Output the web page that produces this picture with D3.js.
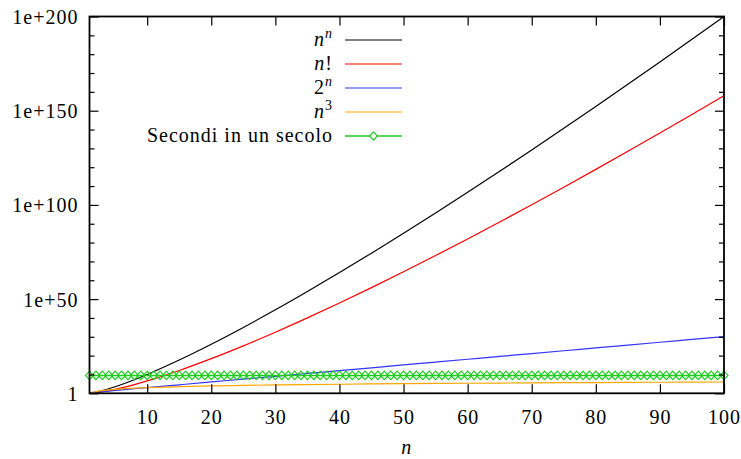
<!DOCTYPE html>
<html><head><meta charset="utf-8">
<script src="https://cdn.jsdelivr.net/npm/d3@7"></script>
<style>
html,body{margin:0;padding:0;background:#fff;}
text{font-family:"Liberation Serif","DejaVu Serif",serif;fill:#000;letter-spacing:1px;}
</style></head>
<body><svg id="chart" width="741" height="459"></svg>
<script>
// ---- data ----
const nSamples = [1,2,3,4,5,6,8,10,15,20,25,30,35,40,45,50,55,60,65,70,75,80,85,90,95,100];
const nPowN = [1,4,27,256,3125,46656,1.678e7,1e10,4.38e17,1.05e26,8.88e34,2.06e44,1.13e54,1.21e64,2.45e74,8.88e84,5.29e95,4.87e106,6.87e117,1.45e129,4.23e140,1.78e152,1.01e164,7.62e175,7.74e187,1e200];
const nFact = [1,2,6,24,120,720,40320,3628800,1.31e12,2.43e18,1.55e25,2.65e32,1.03e40,8.16e47,1.20e56,3.04e64,1.27e73,8.32e81,8.25e90,1.20e100,2.48e109,7.16e118,2.82e128,1.49e138,1.03e148,9.33e157];
const twoPowN = [2,4,8,16,32,64,256,1024,32768,1.05e6,3.36e7,1.07e9,3.44e10,1.10e12,3.52e13,1.13e15,3.60e16,1.15e18,3.69e19,1.18e21,3.78e22,1.21e24,3.87e25,1.24e27,3.96e28,1.27e30];
const nCube = [1,8,27,64,125,216,512,1000,3375,8000,15625,27000,42875,64000,91125,125000,166375,216000,274625,343000,421875,512000,614125,729000,857375,1e6];
const nSecolo = [1,2,3,4,5,6,7,8,9,10,11,12,13,14,15,16,17,18,19,20,21,22,23,24,25,26,27,28,29,30,31,32,33,34,35,36,37,38,39,40,41,42,43,44,45,46,47,48,49,50,51,52,53,54,55,56,57,58,59,60,61,62,63,64,65,66,67,68,69,70,71,72,73,74,75,76,77,78,79,80,81,82,83,84,85,86,87,88,89,90,91,92,93,94,95,96,97,98,99,100];
const secondiSecolo = [3.15e9,3.15e9,3.15e9,3.15e9,3.15e9,3.15e9,3.15e9,3.15e9,3.15e9,3.15e9,3.15e9,3.15e9,3.15e9,3.15e9,3.15e9,3.15e9,3.15e9,3.15e9,3.15e9,3.15e9,3.15e9,3.15e9,3.15e9,3.15e9,3.15e9,3.15e9,3.15e9,3.15e9,3.15e9,3.15e9,3.15e9,3.15e9,3.15e9,3.15e9,3.15e9,3.15e9,3.15e9,3.15e9,3.15e9,3.15e9,3.15e9,3.15e9,3.15e9,3.15e9,3.15e9,3.15e9,3.15e9,3.15e9,3.15e9,3.15e9,3.15e9,3.15e9,3.15e9,3.15e9,3.15e9,3.15e9,3.15e9,3.15e9,3.15e9,3.15e9,3.15e9,3.15e9,3.15e9,3.15e9,3.15e9,3.15e9,3.15e9,3.15e9,3.15e9,3.15e9,3.15e9,3.15e9,3.15e9,3.15e9,3.15e9,3.15e9,3.15e9,3.15e9,3.15e9,3.15e9,3.15e9,3.15e9,3.15e9,3.15e9,3.15e9,3.15e9,3.15e9,3.15e9,3.15e9,3.15e9,3.15e9,3.15e9,3.15e9,3.15e9,3.15e9,3.15e9,3.15e9,3.15e9,3.15e9,3.15e9];
const xTicks = [10,20,30,40,50,60,70,80,90,100];
const yTicks = [1,1e50,1e100,1e150,1e200];
const yTickLabels = ["1","1e+50","1e+100","1e+150","1e+200"];
const yMinorTicks = [1e10,1e20,1e30,1e40,1e60,1e70,1e80,1e90,1e110,1e120,1e130,1e140,1e160,1e170,1e180,1e190];

// ---- layout ----
const FONT = "Liberation Serif";
const svg = d3.select("#chart");
const L = 89.5, R = 724, T = 16.5, B = 393.3;
const x = d3.scaleLinear().domain([1,100]).range([L,R]);
const y = d3.scaleLog().domain([1,1e200]).range([B,T]);

const series = [
  {label:"nn", vals:nPowN, color:"#000000"},
  {label:"n!", vals:nFact, color:"#ff0000"},
  {label:"2n", vals:twoPowN, color:"#3333ff"},
  {label:"n3", vals:nCube, color:"#ffa500"}
];

const line = d3.line().x(d=>x(d[0])).y(d=>y(d[1])).curve(d3.curveMonotoneX);
const plot = svg.append("g");

series.forEach(s=>{
  plot.append("path").datum(nSamples.map((n,i)=>[n,s.vals[i]]))
    .attr("d",line).attr("fill","none").attr("stroke",s.color).attr("stroke-width",1.2);
});

const green = "#1fcc1f";
plot.append("path").datum(nSecolo.map((n,i)=>[n,secondiSecolo[i]]))
  .attr("d",d3.line().x(d=>x(d[0])).y(d=>y(d[1])))
  .attr("fill","none").attr("stroke",green).attr("stroke-width",1.5);
const diamond = (cx,cy)=>`M${cx},${cy-4.2}L${cx+4},${cy}L${cx},${cy+4.2}L${cx-4},${cy}Z`;
plot.selectAll("path.dm").data(nSecolo.map((n,i)=>[n,secondiSecolo[i]])).enter()
  .append("path").attr("class","dm")
  .attr("d",d=>diamond(x(d[0]),y(d[1])))
  .attr("fill","none").attr("stroke",green).attr("stroke-width",1.2);

// ---- axes ----
const axG = svg.append("g");
const tickMajor = 9, tickMinor = 5;
function styleAxis(g){
  g.select(".domain").remove();
  g.selectAll(".tick line").attr("stroke","#000").attr("stroke-width",1.2);
  g.attr("font-family",FONT);
}
const gb = axG.append("g").attr("transform",`translate(0,${B})`)
  .call(d3.axisBottom(x).tickValues(xTicks).tickSize(-tickMajor).tickPadding(0).tickFormat(d3.format("d")));
styleAxis(gb);
gb.selectAll(".tick text").attr("y",31).attr("dy",null).style("font-size","20px").style("font-family",FONT);
const gt = axG.append("g").attr("transform",`translate(0,${T})`)
  .call(d3.axisTop(x).tickValues(xTicks).tickSize(-tickMajor).tickFormat(""));
styleAxis(gt);
const gl = axG.append("g").attr("transform",`translate(${L},0)`)
  .call(d3.axisLeft(y).tickValues(yTicks).tickSize(-tickMajor).tickPadding(0).tickFormat((d,i)=>yTickLabels[i]));
styleAxis(gl);
gl.selectAll(".tick text").attr("x",-11).attr("dy","0.35em").style("font-size","20px").style("font-family",FONT);
const gl2 = axG.append("g").attr("transform",`translate(${L},0)`)
  .call(d3.axisLeft(y).tickValues(yMinorTicks).tickSize(-tickMinor).tickFormat(""));
styleAxis(gl2);
const gr = axG.append("g").attr("transform",`translate(${R},0)`)
  .call(d3.axisRight(y).tickValues(yTicks).tickSize(-tickMajor).tickFormat(""));
styleAxis(gr);
const gr2 = axG.append("g").attr("transform",`translate(${R},0)`)
  .call(d3.axisRight(y).tickValues(yMinorTicks).tickSize(-tickMinor).tickFormat(""));
styleAxis(gr2);

// frame
axG.append("rect").attr("x",L).attr("y",T).attr("width",R-L).attr("height",B-T)
  .attr("fill","none").attr("stroke","#000").attr("stroke-width",1.8);

// x label
svg.append("text").attr("x",(L+R)/2).attr("y",454).attr("text-anchor","middle")
  .style("font-size","20px").style("font-style","italic").text("n");

// ---- legend ----
const legX = 333, lx1 = 345, lx2 = 402;
const legRows = [40,64,88,112,136];
function addLabel(g, i){
  const t = g.append("text").attr("x",legX).attr("y",legRows[i]+6).attr("text-anchor","end").style("font-size","20px");
  if(i===0){ t.append("tspan").style("font-style","italic").text("n");
    t.append("tspan").attr("dy",-8).style("font-size","14px").style("font-style","italic").text("n"); }
  else if(i===1){ t.append("tspan").style("font-style","italic").text("n"); t.append("tspan").text("!"); }
  else if(i===2){ t.append("tspan").text("2");
    t.append("tspan").attr("dy",-8).style("font-size","14px").style("font-style","italic").text("n"); }
  else if(i===3){ t.append("tspan").style("font-style","italic").text("n");
    t.append("tspan").attr("dy",-8).style("font-size","14px").text("3"); }
  else { t.text("Secondi in un secolo"); }
}
const leg = svg.append("g");
series.forEach((s,i)=>{
  addLabel(leg,i);
  leg.append("line").attr("x1",lx1).attr("x2",lx2).attr("y1",legRows[i]).attr("y2",legRows[i])
    .attr("stroke",s.color).attr("stroke-width",1.2);
});
addLabel(leg,4);
leg.append("line").attr("x1",lx1).attr("x2",lx2).attr("y1",legRows[4]).attr("y2",legRows[4])
  .attr("stroke",green).attr("stroke-width",1.5);
leg.append("path").attr("d",diamond((lx1+lx2)/2,legRows[4])).attr("fill","#fff").attr("stroke",green).attr("stroke-width",1.2);
</script></body></html>
